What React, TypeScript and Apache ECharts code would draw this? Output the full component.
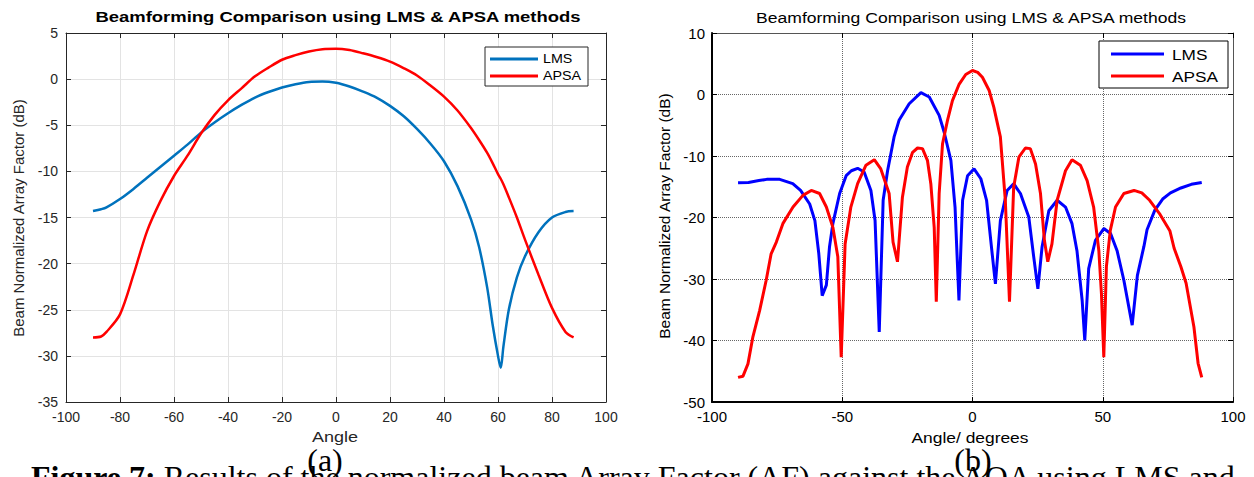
import React, { useEffect, useRef } from "react";
import * as echarts from "echarts";

// ---------- Data: chart (a) ----------
const leftAngles = [
  -90, -87, -85, -80, -75, -70, -65, -60, -55, -50, -45, -40, -35, -30, -25, -20, -15, -10, -5, 0,
  5, 10, 15, 20, 25, 30, 35, 40, 45, 50, 53, 56, 58, 60, 61, 62, 64, 67, 70, 75, 80, 85, 88,
];
const leftLms = [
  -14.3, -14.1, -13.9, -13.0, -11.9, -10.7, -9.5, -8.3, -7.1, -5.8, -4.7, -3.7, -2.8, -2.0, -1.4, -0.9, -0.55, -0.3, -0.25, -0.4,
  -0.8, -1.35, -2.0, -2.9, -4.0, -5.4, -7.0, -8.9, -11.6, -15.2, -18.2, -22.6, -26.6, -30.0, -31.3, -29.0, -25.0, -21.5, -19.2, -16.6, -15.0, -14.4, -14.3,
];
const leftApsa = [
  -28.0, -27.9, -27.4, -25.5, -21.2, -16.5, -13.2, -10.5, -8.3, -5.9, -3.9, -2.3, -1.0, 0.3, 1.25, 2.1, 2.6, 3.0, 3.25, 3.3,
  3.15, 2.8, 2.4, 1.9, 1.2, 0.4, -0.7, -1.9, -3.4, -5.3, -6.6, -8.0, -9.1, -10.3, -10.8, -11.4, -12.8, -15.0, -17.4, -21.2, -24.8, -27.4, -28.0,
];

// ---------- Data: chart (b) ----------
const rightLmsAngles = [
  -90, -86, -82, -79, -74, -69, -66, -62.5, -60.5, -59, -57.7, -56.1, -54.9, -53.6, -51, -48.5, -46.5, -44.1, -41.6, -39,
  -37.4, -35.8, -34.3, -32.6, -30.1, -28.2, -24.3, -19.8, -16.6, -12.8, -10.9, -8.3, -6.7, -5.2, -3.8, -1.9, 0.6, 3.2, 5.4, 7.2,
  8.8, 10.7, 13.3, 15.8, 18.4, 21.6, 23.5, 25.1, 26.7, 29.3, 32.5, 35.7, 38.2, 40.1, 42.1, 43.1, 44.6, 47.2, 50.4, 53,
  55.5, 58.1, 61.3, 63.3, 65.8, 67, 70, 73, 76, 80, 84, 88,
];
const rightLmsValues = [
  -14.35, -14.3, -14.0, -13.8, -13.8, -14.5, -15.6, -17.8, -20.5, -25.9, -32.7, -31.0, -24.8, -21.0, -16.1, -13.2, -12.4, -12.0, -12.6, -15.6,
  -20.5, -38.6, -17.2, -12.4, -6.9, -4.2, -1.5, 0.3, -0.4, -3.4, -6.1, -10.7, -18.3, -33.5, -17.2, -13.2, -12.1, -13.7, -17.2, -24.5,
  -30.8, -20.5, -15.6, -14.5, -16.1, -19.9, -26.4, -31.6, -24.8, -18.9, -17.2, -18.3, -21.0, -25.4, -33.5, -40.0, -28.3, -23.7, -21.8, -22.6,
  -25.4, -30.2, -37.5, -29.4, -24.7, -22.0, -18.8, -17.0, -16.0, -15.2, -14.6, -14.3,
];
const rightApsaAngles = [
  -90, -88.1, -86.2, -84.3, -81.7, -79.2, -77.3, -75.3, -72.8, -68.9, -65.1, -61.9, -58.7, -56.1, -53.6, -51.7, -50.4, -48.9, -46.7, -44.1,
  -40.9, -37.7, -35.2, -32, -30.5, -28.8, -26.9, -25, -23, -21.1, -19.2, -17.3, -16, -14.7, -13.9, -12.8, -11.5, -9.6, -7.7, -5.1,
  -2.6, 0, 2, 3.8, 6.4, 8.2, 10.7, 12.6, 14.2, 15.8, 17.8, 20.3, 22.2, 24.2, 26.1, 27.6, 28.9, 30.5, 32.5, 35.7,
  38.2, 41.4, 44, 46.5, 48.5, 49.5, 50.4, 51.4, 52.9, 54.9, 58.1, 62, 65, 68, 72, 75.8, 77.4, 80, 82, 85, 86.6, 88,
];
const rightApsaValues = [
  -46.0, -45.8, -43.8, -39.4, -35.1, -30.2, -25.9, -24.0, -21.0, -18.3, -16.4, -15.6, -16.1, -18.3, -21.6, -26.4, -42.7, -24.3, -18.3, -14.5,
  -11.5, -10.6, -12.1, -16.1, -24.0, -27.2, -16.7, -11.8, -9.4, -8.7, -8.8, -10.7, -14.5, -21.6, -33.7, -16.1, -8.0, -4.2, -1.0, 1.7,
  3.25, 3.9, 3.6, 2.8, 0.65, -2.1, -6.9, -17.2, -33.7, -15.1, -10.2, -8.7, -8.8, -11.3, -16.1, -23.7, -27.2, -24.3, -17.2, -12.4,
  -10.6, -11.5, -14.0, -18.3, -25.4, -32.4, -42.7, -28.0, -22.1, -18.3, -16.1, -15.6, -16.0, -17.2, -19.5, -22.2, -25.0, -28.0, -30.7, -37.8, -43.7, -46.0,
];

// ---------- Axis ranges / texts ----------
const leftXRange = [-100, 100, 20];
const leftYRange = [-35, 5, 5];
const rightXRange = [-100, 100, 50];
const rightYRange = [-50, 10, 10];
const seriesNames = ["LMS", "APSA"];
const titleText = "Beamforming Comparison using LMS & APSA methods";
const yAxisName = "Beam Normalized Array Factor (dB)";
const leftXName = "Angle";
const rightXName = "Angle/ degrees";
const panelLabels = ["(a)", "(b)"];
const captionBold = "Figure 7:";
const captionRest = " Results of the normalized beam Array Factor (AF) against the AOA using LMS and";

const SANS = "'Liberation Sans', Arial, Helvetica, sans-serif";
const SERIF = "'Liberation Serif', 'Times New Roman', serif";

function pairs(xs: number[], ys: number[]) {
  return xs.map((x, i) => [x, ys[i]]);
}

export default function App() {
  const ref = useRef<HTMLDivElement>(null);
  useEffect(() => {
    if (!ref.current) return;
    const chart = echarts.init(ref.current, undefined, { renderer: "svg" });

    const axisCommon = (r: number[], main: boolean, right: boolean) => ({
      type: "value",
      min: r[0],
      max: r[1],
      interval: r[2],
      axisLine: {
        show: true,
        onZero: false,
        lineStyle: { color: right ? (main ? "#000" : "#555") : "#262626", width: right && main ? 2 : 1 },
      },
      axisTick: { show: true, inside: true, length: 5, lineStyle: { color: right ? "#000" : "#262626" } },
      axisLabel: {
        show: main,
        margin: right ? 7 : 8,
        fontSize: right ? 15 : 14,
        fontFamily: SANS,
        color: right ? "#000" : "#262626",
      },
      splitLine: main
        ? right
          ? { show: true, lineStyle: { color: "#666", type: [1, 1], width: 1 } }
          : { show: true, lineStyle: { color: "#e3e3e3", width: 1 } }
        : { show: false },
    });
    const mkX = (grid: number, r: number[], pos: string, main: boolean, right: boolean) => ({
      ...axisCommon(r, main, right),
      gridIndex: grid,
      position: pos,
    });
    const mkY = (grid: number, r: number[], pos: string, main: boolean, right: boolean) => ({
      ...axisCommon(r, main, right),
      gridIndex: grid,
      position: pos,
    });

    const lineSeries = (name: string, xi: number, yi: number, data: number[][], color: string, width: number, smooth: number | boolean) => ({
      type: "line",
      name,
      xAxisIndex: xi,
      yAxisIndex: yi,
      data,
      symbol: "none",
      smooth,
      lineStyle: { color, width },
      itemStyle: { color },
      z: 5,
    });

    const legend = (
      x: number, y: number, w: number, h: number, lineX: number, lineW: number, textX: number,
      y1: number, y2: number, c1: string, fs: number, sx: number, stroke: string
    ) => ({
      type: "group",
      z: 100,
      children: [
        { type: "rect", shape: { x, y, width: w, height: h }, style: { fill: "#fff", stroke, lineWidth: 1 }, z: 100 },
        { type: "line", shape: { x1: lineX, y1, x2: lineX + lineW, y2: y1 }, style: { stroke: c1, lineWidth: 3 }, z: 101 },
        { type: "line", shape: { x1: lineX, y1: y2, x2: lineX + lineW, y2 }, style: { stroke: "#ff0000", lineWidth: 3 }, z: 101 },
        { type: "text", x: textX, y: y1, scaleX: sx, style: { text: seriesNames[0], font: `${fs}px ${SANS}`, fill: "#000", verticalAlign: "middle" }, z: 101 },
        { type: "text", x: textX, y: y2, scaleX: sx, style: { text: seriesNames[1], font: `${fs}px ${SANS}`, fill: "#000", verticalAlign: "middle" }, z: 101 },
      ],
    });

    chart.setOption({
      animation: false,
      backgroundColor: "#ffffff",
      grid: [
        { left: 66, top: 33, width: 540, height: 369, containLabel: false },
        { left: 712, top: 33, width: 521, height: 369, containLabel: false },
      ],
      xAxis: [
        mkX(0, leftXRange, "bottom", true, false),
        mkX(0, leftXRange, "top", false, false),
        mkX(1, rightXRange, "bottom", true, true),
        mkX(1, rightXRange, "top", false, true),
      ],
      yAxis: [
        mkY(0, leftYRange, "left", true, false),
        mkY(0, leftYRange, "right", false, false),
        mkY(1, rightYRange, "left", true, true),
        mkY(1, rightYRange, "right", false, true),
      ],
      series: [
        lineSeries(seriesNames[0], 0, 0, pairs(leftAngles, leftLms), "#0072BD", 2.5, 0.3),
        lineSeries(seriesNames[1], 0, 0, pairs(leftAngles, leftApsa), "#ff0000", 2.5, 0.3),
        lineSeries(seriesNames[0], 2, 2, pairs(rightLmsAngles, rightLmsValues), "#0000ff", 3, false),
        lineSeries(seriesNames[1], 2, 2, pairs(rightApsaAngles, rightApsaValues), "#ff0000", 3, false),
      ],
      graphic: [
        { type: "text", x: 338, y: 17, scaleX: 1.23, style: { text: titleText, font: `bold 15px ${SANS}`, fill: "#000", align: "center", verticalAlign: "middle" } },
        { type: "text", x: 971, y: 17, scaleX: 1.17, style: { text: titleText, font: `15px ${SANS}`, fill: "#000", align: "center", verticalAlign: "middle" } },
        { type: "text", x: 18, y: 218, rotation: Math.PI / 2, style: { text: yAxisName, font: `15px ${SANS}`, fill: "#262626", align: "center", verticalAlign: "middle" } },
        { type: "text", x: 664, y: 216, rotation: Math.PI / 2, style: { text: yAxisName, font: `15.5px ${SANS}`, fill: "#000", align: "center", verticalAlign: "middle" } },
        { type: "text", x: 335, y: 437, scaleX: 1.2, style: { text: leftXName, font: `15px ${SANS}`, fill: "#262626", align: "center", verticalAlign: "middle" } },
        { type: "text", x: 970, y: 437, scaleX: 1.16, style: { text: rightXName, font: `15px ${SANS}`, fill: "#000", align: "center", verticalAlign: "middle" } },
        legend(485, 47, 103, 39, 490, 48, 543, 59, 76, "#0072BD", 13, 1.1, "#262626"),
        legend(1099, 41, 129, 47, 1111, 53, 1172, 54, 76, "#0000ff", 15, 1.15, "#000"),
        {
          type: "text",
          x: 31,
          y: 461,
          z: 50,
          style: {
            text: `{b|${captionBold}}${captionRest}`,
            font: `32px ${SERIF}`,
            fill: "#000",
            verticalAlign: "top",
            rich: { b: { font: `bold 32px ${SERIF}`, fill: "#000" } },
          },
        },
        { type: "text", x: 325, y: 444, z: 60, style: { text: panelLabels[0], font: `32px ${SERIF}`, fill: "#000", align: "center", verticalAlign: "top" } },
        { type: "text", x: 973, y: 444, z: 60, style: { text: panelLabels[1], font: `32px ${SERIF}`, fill: "#000", align: "center", verticalAlign: "top" } },
      ],
    });
    return () => chart.dispose();
  }, []);

  return (
    <div
      ref={ref}
      style={{ position: "fixed", left: 0, top: 0, width: 1254, height: 477, background: "#fff", overflow: "hidden" }}
    />
  );
}
